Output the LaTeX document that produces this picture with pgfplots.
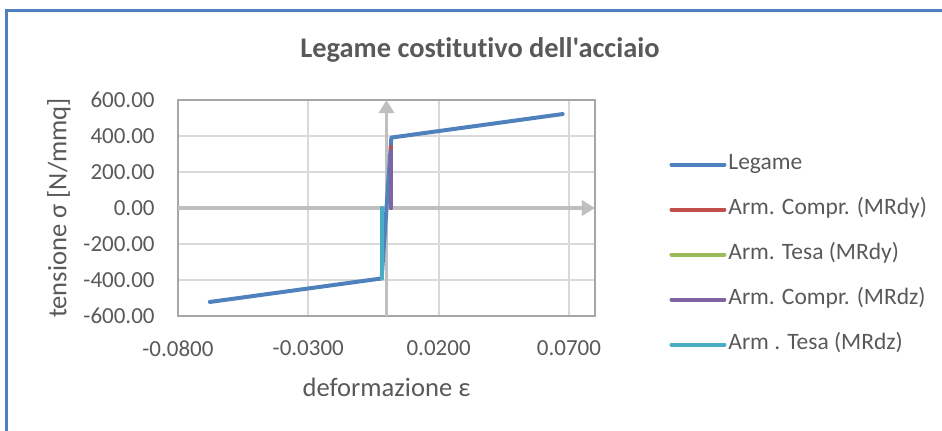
\documentclass[border=0pt]{standalone}
\usepackage{pgfplots}
\pgfplotsset{compat=1.18}
\usepackage{fontspec}
\setmainfont{Carlito}[Ligatures={NoCommon,TeXOff}]
\usetikzlibrary{arrows.meta}
\definecolor{cblue}{HTML}{4F81BD}
\definecolor{cred}{HTML}{C0504D}
\definecolor{cgreen}{HTML}{9BBB59}
\definecolor{cpurple}{HTML}{8064A2}
\definecolor{cteal}{HTML}{4BACC6}
\definecolor{txtgray}{HTML}{595959}
\definecolor{gridgray}{HTML}{D9D9D9}
\definecolor{bordergray}{HTML}{A6A6A6}
\definecolor{axgray}{HTML}{BFBFBF}
\begin{document}
\begin{tikzpicture}
\begin{axis}[
  scale only axis, width=208.5pt, height=108pt,
  at={(0,0)}, anchor=south west,
  xmin=-0.08, xmax=0.08, ymin=-600, ymax=600,
  xtick={-0.08,-0.03,0.02,0.07}, ytick={-600,-400,-200,0,200,400,600},
  scaled x ticks=false, scaled y ticks=false,
  grid=major, major grid style={draw=gridgray, line width=1pt},
  axis line style={draw=bordergray, line width=1pt},
  major tick length=0pt,
  clip=false,
  tick label style={font=\fontsize{11.5}{13}\selectfont, text=txtgray},
  xticklabel style={/pgf/number format/.cd, fixed, fixed zerofill, precision=4, assume math mode=true, /tikz/.cd, anchor=north, inner sep=0pt, yshift=-12pt},
  yticklabel style={/pgf/number format/.cd, fixed, fixed zerofill, precision=2, assume math mode=true, /tikz/.cd, anchor=east, inner sep=0pt, xshift=-11.5pt},
  legend cell align=left,
  legend style={draw=none, fill=none, anchor=west, at={(axis description cs:1.1775,0.2847)},
    font=\fontsize{11.75}{14}\selectfont, text=txtgray, row sep=11.5pt, column sep=1pt, inner sep=0pt,
    nodes={inner sep=0pt, text height=8pt, text depth=3pt}},
  legend image code/.code={\draw[#1, line width=2pt, line cap=round] (0pt,0pt) -- (26.5pt,0pt);},
]
\draw[axgray, line width=1.7pt, -{Triangle[width=7.5pt,length=6.5pt]}] (axis cs:-0.08,0) -- (axis cs:0.08,0);
\draw[axgray, line width=1.7pt, -{Triangle[width=7.5pt,length=6.5pt]}] (axis cs:0,-600) -- (axis cs:0,600);
\addplot[cblue, line width=2pt, line cap=round, line join=round] coordinates {(-0.0678,-522) (-0.00186,-391.3) (0.00186,391.3) (0.0676,522)};
\addlegendentry{Legame}
\addplot[cred, line width=2pt, line cap=round] coordinates {(0.00175,0) (0.00175,340)};
\addlegendentry{Arm. Compr. (MRdy)}
\addplot[cgreen, line width=2pt, line cap=round] coordinates {(-0.00186,0) (-0.00186,-391.3)};
\addlegendentry{Arm. Tesa (MRdy)}
\addplot[cpurple, line width=2pt, line cap=round] coordinates {(0.00175,0) (0.00175,318)};
\addlegendentry{Arm. Compr. (MRdz)}
\addplot[cteal, line width=2pt, line cap=round] coordinates {(-0.00186,0) (-0.00186,-391.3)};
\addlegendentry{Arm . Tesa (MRdz)}
\end{axis}
\node[font=\bfseries\fontsize{14.2}{16}\selectfont, text=txtgray] at (151pt,133pt) {Legame costitutivo dell'acciaio};
\node[font=\fontsize{13.3}{15}\selectfont, text=txtgray] at (104.25pt,-35.5pt) {deformazione ε};
\node[font=\fontsize{13.3}{15}\selectfont, text=txtgray, rotate=90] at (-59.5pt,54pt) {tensione σ [N/mmq]};
\draw[cblue, line width=1.5pt] (-85.5pt,-70pt) -- (-85.5pt,153pt) -- (400pt,153pt);
\pgfresetboundingbox
\useasboundingbox (-89pt,-57pt) rectangle (382pt,158pt);
\end{tikzpicture}
\end{document}
